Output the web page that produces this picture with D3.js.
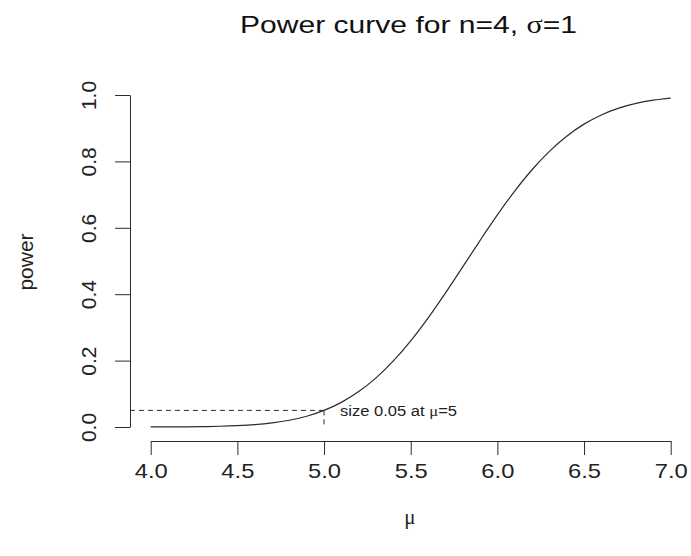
<!DOCTYPE html>
<html>
<head>
<meta charset="utf-8">
<script src="https://cdn.jsdelivr.net/npm/d3@7"></script>
<style>
  body { margin: 0; background: #fff; }
  svg { display: block; font-family: "Liberation Sans", Arial, Helvetica, sans-serif; }
</style>
</head>
<body>
<svg id="chart" width="691" height="556"></svg>
<script>
// Data
const mu = [4.0,4.1,4.2,4.3,4.4,4.5,4.6,4.7,4.8,4.9,5.0,5.1,5.2,5.3,5.4,5.5,5.6,5.7,5.8,5.9,6.0,6.1,6.2,6.3,6.4,6.5,6.6,6.7,6.8,6.9,7.0];
const power = [0.0001,0.0003,0.0006,0.0012,0.0022,0.0041,0.0072,0.0124,0.0204,0.0325,0.05,0.0742,0.1066,0.148,0.1991,0.2595,0.3282,0.4032,0.4821,0.5616,0.6387,0.7106,0.7749,0.8302,0.876,0.9123,0.94,0.9604,0.9747,0.9844,0.9907];
const xTicks = [4.0, 4.5, 5.0, 5.5, 6.0, 6.5, 7.0];
const yTicks = [0.0, 0.2, 0.4, 0.6, 0.8, 1.0];
const sizeMu = 5;
const sizeAlpha = 0.05;
const titleParts = ["Power curve for n=4, ", "\u03c3", "=1"];
const xLabel = "\u03bc";
const yLabel = "power";
const noteParts = ["size 0.05 at ", "\u03bc", "=5"];

const svg = d3.select("#chart");
const x = d3.scaleLinear().domain([4, 7]).range([150.7, 670.7]);
const y = d3.scaleLinear().domain([0, 1]).range([427, 95]);
const plotLeft = x(3.88);
const ink = "#2b2b2b";
const serif = "Liberation Serif, DejaVu Serif, serif";

// X axis
const xAxis = d3.axisBottom(x).tickValues(xTicks).tickFormat(d3.format(".1f")).tickSize(14).tickSizeOuter(0);
const gx = svg.append("g").attr("transform", "translate(0,441)").call(xAxis);
gx.select(".domain").attr("stroke", ink);
gx.selectAll(".tick line").attr("stroke", ink);
gx.selectAll(".tick text")
  .attr("font-size", 21).attr("fill", "#222").attr("font-family", "Liberation Sans, Arial, sans-serif")
  .attr("y", 37).attr("dy", null)
  .attr("textLength", 33).attr("lengthAdjust", "spacingAndGlyphs");

// Y axis
const yAxis = d3.axisLeft(y).tickValues(yTicks).tickFormat(d3.format(".1f")).tickSize(15).tickSizeOuter(0);
const gy = svg.append("g").attr("transform", "translate(130,0)").call(yAxis);
gy.select(".domain").attr("stroke", ink);
gy.selectAll(".tick line").attr("stroke", ink);
gy.selectAll(".tick text")
  .attr("font-size", 21).attr("fill", "#222").attr("font-family", "Liberation Sans, Arial, sans-serif")
  .attr("x", null).attr("dy", null)
  .attr("text-anchor", "middle")
  .attr("transform", "translate(-34,0) rotate(-90)");

// Dashed reference lines
svg.append("line")
  .attr("x1", plotLeft).attr("x2", x(sizeMu))
  .attr("y1", y(sizeAlpha)).attr("y2", y(sizeAlpha))
  .attr("stroke", ink).attr("stroke-dasharray", "5,4").attr("stroke-width", 1);
svg.append("line")
  .attr("x1", x(sizeMu)).attr("x2", x(sizeMu))
  .attr("y1", y(sizeAlpha)).attr("y2", y(0))
  .attr("stroke", ink).attr("stroke-dasharray", "5,4").attr("stroke-width", 1);

// Curve
const line = d3.line().x((d, i) => x(mu[i])).y(d => y(d)).curve(d3.curveMonotoneX);
svg.append("path").datum(power)
  .attr("d", line).attr("fill", "none").attr("stroke", ink).attr("stroke-width", 1.2);

function addParts(sel, parts) {
  parts.forEach((p, i) => {
    const t = sel.append("tspan").text(p);
    if (i === 1) t.attr("font-family", serif);
  });
}

// Annotation
const note = svg.append("text").attr("x", x(sizeMu) + 16).attr("y", y(sizeAlpha) + 6)
  .attr("font-size", 14).attr("fill", "#222")
  .attr("textLength", 117).attr("lengthAdjust", "spacingAndGlyphs");
addParts(note, noteParts);

// Title
const title = svg.append("text").attr("x", 408.5).attr("y", 33).attr("text-anchor", "middle")
  .attr("font-size", 24.5).attr("fill", "#111")
  .attr("textLength", 337).attr("lengthAdjust", "spacingAndGlyphs");
addParts(title, titleParts);

// Axis labels
svg.append("text").attr("x", 410).attr("y", 524).attr("text-anchor", "middle")
  .attr("font-size", 21).attr("font-family", serif).attr("fill", "#222").text(xLabel);
svg.append("text").attr("transform", "translate(33,262) rotate(-90)").attr("text-anchor", "middle")
  .attr("font-size", 21).attr("fill", "#222").text(yLabel);
</script>
</body>
</html>
